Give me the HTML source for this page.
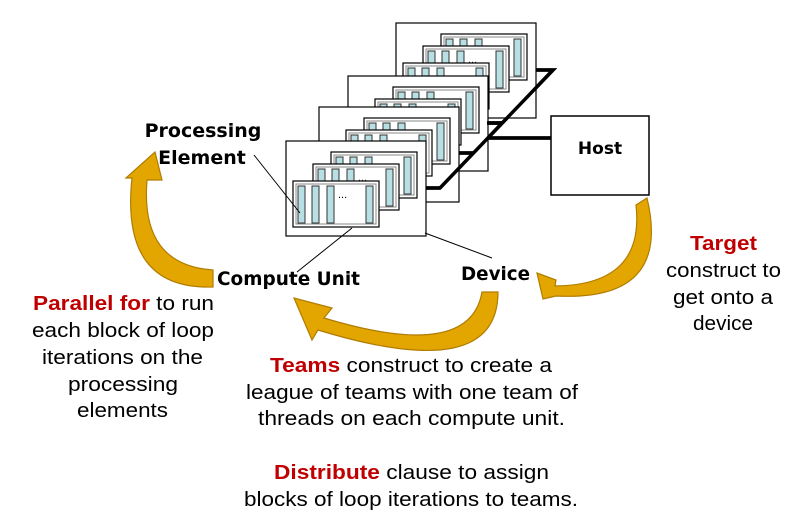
<!DOCTYPE html>
<html><head><meta charset="utf-8"><style>
html,body{margin:0;padding:0;background:#fff;}
svg{display:block;}
.b{font-family:"DejaVu Sans","Liberation Sans",sans-serif;font-weight:bold;fill:#000;}
.t{font-family:"Liberation Sans Narrow","Liberation Sans",sans-serif;font-size:20px;fill:#000;}
.r{fill:#c00000;font-weight:bold;}
</style></head><body>
<svg width="800" height="520" viewBox="0 0 800 520" xmlns="http://www.w3.org/2000/svg">
<defs>
<g id="cu">
  <rect x="0" y="0" width="86" height="46" fill="#fff" stroke="#000" stroke-width="1.2"/>
  <rect x="3" y="3" width="80" height="40" fill="#fff" stroke="#888" stroke-width="1"/>
  <rect x="5" y="5" width="7" height="37" fill="#b8e0e4" stroke="#333" stroke-width="1"/>
  <rect x="19" y="5" width="7" height="37" fill="#b8e0e4" stroke="#333" stroke-width="1"/>
  <rect x="34" y="5" width="7" height="37" fill="#b8e0e4" stroke="#333" stroke-width="1"/>
  <rect x="73" y="5" width="7" height="37" fill="#b8e0e4" stroke="#333" stroke-width="1"/>
  <text x="45" y="17" font-family="Liberation Sans" font-size="11">...</text>
</g>
<g id="dev">
  <rect x="0" y="0" width="140" height="95" fill="#fff" stroke="#000" stroke-width="1.2"/>
  <use href="#cu" x="45" y="11"/>
  <use href="#cu" x="27" y="23"/>
  <use href="#cu" x="7" y="40"/>
</g>
</defs>
<!-- bus lines -->
<g stroke="#000" stroke-width="3.5" fill="none">
  <polyline points="536,70 553,70 440,188 426,188"/>
  <line x1="487" y1="123" x2="502" y2="123"/>
  <line x1="459" y1="153" x2="474" y2="153"/>
  <line x1="487" y1="138" x2="553" y2="138"/>
</g>
<use href="#dev" x="396" y="23"/>
<g stroke="#000" stroke-width="3.5"><line x1="502" y1="123" x2="487" y2="123"/></g>
<use href="#dev" x="348" y="76"/>
<g stroke="#000" stroke-width="3.5"><line x1="474" y1="153" x2="459" y2="153"/><line x1="440" y1="188" x2="426" y2="188"/></g>
<use href="#dev" x="319" y="107"/>
<g stroke="#000" stroke-width="3.5"><line x1="440" y1="188" x2="426" y2="188"/></g>
<use href="#dev" x="286" y="141"/>
<!-- redraw visible bus segments over devices -->
<g stroke="#000" stroke-width="3.5" fill="none">
  <polyline points="536,70 553,70 440,188 426,188"/>
  <line x1="459" y1="153" x2="474" y2="153"/>
  <line x1="487" y1="123" x2="502" y2="123"/>
  <line x1="487" y1="138" x2="553" y2="138"/>
</g>
<rect x="551" y="116" width="98" height="79" fill="#fff" stroke="#000" stroke-width="1.5"/>
<text class="b" x="600" y="154" font-size="17" text-anchor="middle">Host</text>
<!-- leader lines -->
<g stroke="#000" stroke-width="1">
  <line x1="254" y1="155" x2="300" y2="213"/>
  <line x1="297" y1="272" x2="352" y2="228"/>
  <line x1="492" y1="258" x2="425" y2="233"/>
</g>
<!-- arrows -->
<g fill="#e3a600" stroke="#b07c00" stroke-width="1.2">
  <path d="M213,270 L213,287 Q120,290 132,178 L126,178 L155,152 L162,180 L147,180 Q140,265 213,270 Z"/>
  <path d="M482,292 L498,292 Q498,385 318,330 L312,340 L294,298 L332,308 L324,318 Q470,362 482,292 Z"/>
  <path d="M636,205 L647,198 Q672,302 556,296 L543,299 L537,273 L556,280 L555,286 Q645,285 636,205 Z"/>
</g>
<!-- labels -->
<text class="b" x="203" y="137" font-size="19" text-anchor="middle">Processing</text>
<text class="b" x="202" y="164" font-size="19" text-anchor="middle">Element</text>
<text class="b" x="217" y="285" font-size="19" textLength="143" lengthAdjust="spacingAndGlyphs">Compute Unit</text>
<text class="b" x="461" y="280" font-size="19" textLength="69" lengthAdjust="spacingAndGlyphs">Device</text>

<g class="t">
<text x="33" y="310" textLength="181" lengthAdjust="spacingAndGlyphs"><tspan class="r">Parallel for</tspan> to run</text>
<text x="32" y="337" textLength="182" lengthAdjust="spacingAndGlyphs">each block of loop</text>
<text x="42" y="364" textLength="161" lengthAdjust="spacingAndGlyphs">iterations on the</text>
<text x="68" y="391" textLength="110" lengthAdjust="spacingAndGlyphs">processing</text>
<text x="77" y="417" textLength="91" lengthAdjust="spacingAndGlyphs">elements</text>

<text x="270" y="372" textLength="282" lengthAdjust="spacingAndGlyphs"><tspan class="r">Teams</tspan> construct to create a</text>
<text x="246" y="399" textLength="332" lengthAdjust="spacingAndGlyphs">league of teams with one team of</text>
<text x="258" y="425" textLength="307" lengthAdjust="spacingAndGlyphs">threads on each compute unit.</text>
<text x="274" y="479" textLength="275" lengthAdjust="spacingAndGlyphs"><tspan class="r">Distribute</tspan> clause to assign</text>
<text x="244" y="506" textLength="334" lengthAdjust="spacingAndGlyphs">blocks of loop iterations to teams.</text>

<text x="690" y="250" textLength="67" lengthAdjust="spacingAndGlyphs" class="r">Target</text>
<text x="666" y="277" textLength="115" lengthAdjust="spacingAndGlyphs">construct to</text>
<text x="673" y="304" textLength="100" lengthAdjust="spacingAndGlyphs">get onto a</text>
<text x="693" y="330" textLength="60" lengthAdjust="spacingAndGlyphs">device</text>
</g>
</svg>
</body></html>
